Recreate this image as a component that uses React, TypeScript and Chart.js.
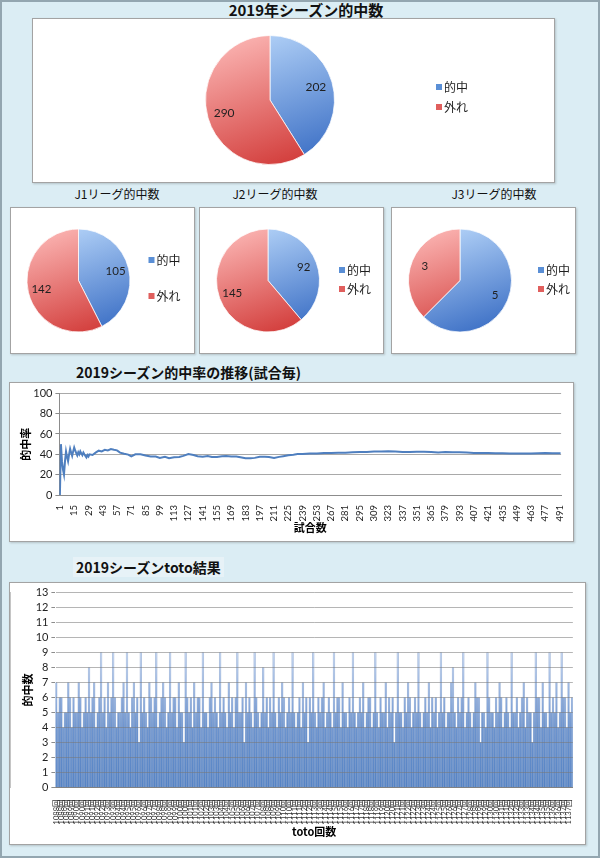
import React, { useEffect, useRef } from 'react';
import { Chart, registerables } from 'chart.js';

Chart.register(...registerables);

// ---------------- data ----------------
const pieLabels = ['的中', '外れ'];
const seasonTotals = [202, 290];
const j1Totals = [105, 142];
const j2Totals = [92, 145];
const j3Totals = [5, 3];

// cumulative hit-rate (%) by match number
const rateMatchNo = [
  1, 2, 3, 4, 5, 6, 7, 8, 9, 10, 11, 12, 13, 14, 15, 16, 17, 18, 19, 20, 21, 22, 23, 24, 25, 26, 27, 28, 29, 30,
  33, 36, 39, 42, 45, 48, 51, 54, 57, 60, 64, 68, 71, 75, 80, 85, 90, 95, 99, 104, 108, 113, 118, 122, 127, 132,
  136, 141, 146, 150, 155, 160, 164, 169, 174, 178, 183, 188, 192, 197, 202, 206, 211, 216, 220, 225, 230, 234,
  239, 246, 253, 260, 267, 274, 281, 288, 295, 302, 309, 316, 323, 330, 337, 344, 351, 358, 365, 372, 379, 386,
  393, 400, 407, 414, 421, 428, 435, 442, 449, 456, 463, 470, 477, 484, 492,
];
const rateValues = [
  0, 50, 33.3, 25, 20, 33.3, 42.9, 37.5, 33.3, 40, 45.5, 41.7, 38.5, 42.9, 46.7, 43.8, 41.2, 38.9, 42.1, 40, 42.9,
  40.9, 39.1, 41.7, 40, 38.5, 37, 39.3, 37.9, 40,
  39.4, 41.7, 43.6, 42.9, 44.4, 43.8, 45.1, 44.4, 43.9, 41.7, 40.6, 39.7, 38.0, 40.0, 40.0, 38.8, 37.8, 37.9, 36.4,
  37.5, 36.1, 37.2, 37.3, 38.5, 40.2, 39.4, 38.2, 37.6, 38.4, 37.3, 37.4, 38.1, 38.4, 37.9, 37.9, 37.1, 36.1, 36.2,
  36.5, 37.6, 37.6, 37.4, 36.5, 37.5, 38.2, 39.1, 39.6, 40.2, 40.2, 40.7, 40.7, 41.2, 41.2, 41.6, 41.6, 42.0, 42.4,
  42.4, 42.7, 42.7, 43.0, 42.7, 42.4, 42.2, 42.5, 42.5, 42.2, 41.9, 42.2, 42.0, 42.0, 41.7, 41.3, 41.3, 41.3, 41.1,
  41.1, 40.8, 40.7, 40.8, 40.8, 41.1, 41.3, 41.1, 41.1,
];
const rateTickNos = [
  1, 15, 29, 43, 57, 71, 85, 99, 113, 127, 141, 155, 169, 183, 197, 211, 225, 239, 253, 267, 281, 295, 309, 323,
  337, 351, 365, 379, 393, 407, 421, 435, 449, 463, 477, 491,
];

// toto results: rounds and hits per ticket (6 tickets per round)
const totoRounds = [
  1088, 1089, 1090, 1091, 1092, 1093, 1094, 1095, 1096, 1097, 1098, 1099, 1100, 1101, 1102, 1103, 1104, 1105, 1106,
  1107, 1108, 1109, 1110, 1111, 1112, 1113, 1114, 1115, 1116, 1117, 1118, 1119, 1120, 1121, 1122, 1123, 1124, 1125,
  1126, 1127, 1128, 1129, 1130, 1131, 1132, 1133, 1134, 1135, 1136, 1137,
];
const ticketsPerRound = 6;
const totoHits = [
  7, 5, 6, 6, 4, 5, 5, 7, 6, 4, 6, 5, 5, 7, 6, 4, 5, 6, 5, 8,
  5, 6, 7, 4, 5, 6, 9, 5, 6, 4, 7, 5, 6, 9, 6, 4, 5, 5, 6, 7,
  5, 9, 5, 4, 6, 7, 5, 6, 3, 9, 5, 6, 5, 4, 7, 6, 5, 6, 9, 4,
  5, 6, 7, 6, 4, 5, 9, 5, 6, 6, 4, 7, 5, 5, 3, 9, 6, 5, 6, 4,
  7, 5, 6, 6, 4, 9, 5, 5, 4, 6, 7, 5, 6, 5, 4, 9, 5, 6, 5, 4,
  7, 5, 6, 4, 6, 9, 5, 5, 6, 3, 7, 5, 6, 5, 4, 9, 6, 5, 4, 5,
  8, 5, 6, 4, 6, 5, 9, 5, 4, 6, 5, 7, 6, 4, 5, 6, 5, 9, 5, 4,
  5, 6, 4, 7, 5, 6, 3, 6, 5, 9, 5, 4, 6, 5, 6, 7, 4, 5, 6, 5,
  4, 9, 5, 6, 6, 4, 7, 5, 5, 4, 6, 5, 9, 5, 4, 5, 6, 5, 7, 4,
  5, 6, 6, 4, 5, 9, 5, 4, 6, 5, 5, 7, 4, 6, 5, 6, 3, 5, 9, 5,
  5, 4, 6, 5, 7, 6, 4, 5, 6, 5, 9, 5, 4, 5, 6, 5, 7, 4, 6, 5,
  6, 4, 5, 9, 5, 6, 4, 5, 5, 7, 8, 5, 4, 6, 5, 6, 9, 4, 5, 6,
  5, 4, 5, 7, 6, 6, 3, 5, 5, 4, 9, 6, 5, 5, 4, 6, 5, 7, 6, 4,
  5, 6, 5, 4, 9, 5, 5, 6, 4, 5, 6, 7, 4, 6, 5, 5, 3, 5, 9, 6,
  6, 4, 7, 5, 5, 4, 9, 5, 6, 5, 7, 4, 5, 9, 6, 6, 4, 7, 5, 6,
];
const totoLabels: string[] = totoRounds.flatMap((r) => Array(ticketsPerRound).fill(`${r}回`));

// ---------------- styling ----------------
const JP = '"Noto Sans CJK JP", "Noto Sans", sans-serif';
const NUM = 'Lato, "Noto Sans CJK JP", sans-serif';
const TEXT = '#1f1f1f';
const GRID = '#a9a9a9';
const AXIS = '#8c8c8c';

Chart.defaults.font.family = NUM;
Chart.defaults.color = TEXT;

const SLICE = [
  { light: '#b4d3f8', dark: '#3e71c6', mark: '#5a8fd6' },
  { light: '#fab2b0', dark: '#d23c3a', mark: '#e05f5d' },
];

function sliceFill(c: any) {
  const chart = c.chart;
  const a = chart.chartArea;
  const s = SLICE[c.dataIndex % 2];
  if (!a) return s.mark;
  const cx = (a.left + a.right) / 2;
  const cy = (a.top + a.bottom) / 2;
  const r = Math.min(a.width, a.height) / 2;
  const g = chart.ctx.createLinearGradient(cx - r * 0.35, cy - r, cx + r * 0.35, cy + r);
  g.addColorStop(0, s.light);
  g.addColorStop(1, s.dark);
  return g;
}

function pieExtras(legendX: number, legendY: number[], labelRadius: number, valueSize: number) {
  return {
    id: 'pieExtras',
    afterDatasetsDraw(chart: any) {
      const ctx = chart.ctx;
      const meta = chart.getDatasetMeta(0);
      const data = chart.data.datasets[0].data;
      ctx.save();
      ctx.font = `${valueSize}px ${NUM}`;
      ctx.fillStyle = TEXT;
      ctx.textAlign = 'center';
      ctx.textBaseline = 'middle';
      meta.data.forEach((arc: any, i: number) => {
        const p = arc.getProps(['x', 'y', 'startAngle', 'endAngle', 'outerRadius'], true);
        const mid = (p.startAngle + p.endAngle) / 2;
        const rr = p.outerRadius * labelRadius;
        ctx.fillText(String(data[i]), p.x + Math.cos(mid) * rr, p.y + Math.sin(mid) * rr);
      });
      ctx.textAlign = 'left';
      ctx.font = `12px ${JP}`;
      (chart.data.labels as string[]).forEach((lab: string, i: number) => {
        const y = legendY[i];
        ctx.fillStyle = SLICE[i].mark;
        ctx.fillRect(legendX, y - 3, 6, 6);
        ctx.fillStyle = TEXT;
        ctx.fillText(lab, legendX + 8, y + 0.5);
      });
      ctx.restore();
    },
  };
}

function pieConfig(
  values: number[],
  pad: { left: number; right: number; top: number; bottom: number },
  legendX: number,
  legendY: number[],
  valueSize: number,
): any {
  return {
    type: 'pie',
    data: {
      labels: pieLabels,
      datasets: [
        {
          data: values,
          backgroundColor: sliceFill,
          borderColor: 'rgba(255,255,255,0.75)',
          borderWidth: 1,
        },
      ],
    },
    options: {
      animation: false,
      responsive: false,
      layout: { padding: pad },
      plugins: { legend: { display: false }, tooltip: { enabled: false } },
    },
    plugins: [pieExtras(legendX, legendY, 0.74, valueSize)],
  };
}

function lineConfig(): any {
  return {
    type: 'line',
    data: {
      datasets: [
        {
          data: rateMatchNo.map((x, i) => ({ x, y: rateValues[i] })),
          borderColor: '#4f7fbf',
          borderWidth: 2,
          pointRadius: 0,
          tension: 0,
          fill: false,
        },
      ],
    },
    options: {
      animation: false,
      responsive: false,
      layout: { padding: { left: 5.4, right: 7, top: 10.3, bottom: 3 } },
      plugins: { legend: { display: false }, tooltip: { enabled: false } },
      scales: {
        x: {
          type: 'linear',
          min: 0.5,
          max: 492.5,
          afterBuildTicks: (axis: any) => {
            axis.ticks = rateTickNos.map((v) => ({ value: v }));
          },
          afterFit: (s: any) => {
            s.height = 43;
          },
          ticks: {
            autoSkip: false,
            minRotation: 90,
            maxRotation: 90,
            padding: 2,
            font: { size: 9.5, family: NUM },
            color: TEXT,
          },
          grid: { display: false },
          border: { display: true, color: AXIS },
          title: {
            display: true,
            text: '試合数',
            color: '#000',
            font: { family: JP, size: 11, weight: 'bold' },
            padding: { top: 2, bottom: 4 },
          },
        },
        y: {
          min: 0,
          max: 100,
          afterFit: (s: any) => {
            s.width = 44;
          },
          ticks: { stepSize: 20, padding: 3, font: { size: 11, family: NUM }, color: TEXT },
          grid: { color: GRID, tickLength: 4, tickColor: AXIS },
          border: { display: true, color: AXIS },
          title: {
            display: true,
            text: '的中率',
            color: '#000',
            font: { family: JP, size: 11, weight: 'bold' },
            padding: { top: 4, bottom: 4 },
          },
        },
      },
    },
  };
}

function barFill(c: any) {
  const chart = c.chart;
  const a = chart.chartArea;
  if (!a) return '#6f98d2';
  const g = chart.ctx.createLinearGradient(0, a.bottom, 0, a.top);
  g.addColorStop(0, '#5583c4');
  g.addColorStop(0.3, '#6b93ce');
  g.addColorStop(0.45, '#8dacdc');
  g.addColorStop(0.7, '#c3d4ee');
  g.addColorStop(1, '#e2eaf6');
  return g;
}

function totoConfig(): any {
  return {
    type: 'bar',
    data: {
      labels: totoLabels,
      datasets: [
        {
          data: totoHits,
          backgroundColor: barFill,
          borderColor: 'rgba(70,110,175,0.45)',
          borderWidth: 0.6,
          inflateAmount: 0.4,
          barPercentage: 1,
          categoryPercentage: 1,
        },
      ],
    },
    options: {
      animation: false,
      responsive: false,
      layout: { padding: { left: 7.4, right: 5.5, top: 9.3, bottom: 2 } },
      plugins: { legend: { display: false }, tooltip: { enabled: false } },
      scales: {
        x: {
          afterFit: (s: any) => {
            s.height = 54.5;
          },
          ticks: {
            autoSkip: false,
            minRotation: 90,
            maxRotation: 90,
            padding: 4,
            font: { size: 7.5, family: NUM },
            color: '#333',
            callback: (_v: any, i: number) => (i % 3 === 0 ? totoLabels[i] : ''),
          },
          grid: { display: false },
          border: { display: true, color: AXIS },
          title: {
            display: true,
            text: 'toto回数',
            color: '#000',
            font: { family: JP, size: 11, weight: 'bold' },
            padding: { top: 2, bottom: 4 },
          },
        },
        y: {
          min: 0,
          max: 13,
          afterFit: (s: any) => {
            s.width = 38;
          },
          ticks: { stepSize: 1, autoSkip: false, padding: 3, font: { size: 11, family: NUM }, color: TEXT },
          grid: { color: 'rgba(120,120,120,0.55)', tickLength: 4, tickColor: AXIS, z: 1 },
          border: { display: true, color: AXIS },
          title: {
            display: true,
            text: '的中数',
            color: '#000',
            font: { family: JP, size: 11, weight: 'bold' },
            padding: { top: 4, bottom: 4 },
          },
        },
      },
    },
  };
}

// ---------------- components ----------------
type BoxProps = { left: number; top: number; width: number; height: number; make: () => any };

function ChartBox({ left, top, width, height, make }: BoxProps) {
  const ref = useRef<HTMLCanvasElement | null>(null);
  useEffect(() => {
    if (!ref.current) return;
    const chart = new Chart(ref.current, make());
    return () => chart.destroy();
  }, []);
  const w = width - 2;
  const h = height - 2;
  return (
    <div
      style={{
        position: 'absolute',
        left,
        top,
        width,
        height,
        boxSizing: 'border-box',
        border: '1px solid #a3a3a3',
        background: '#fff',
        boxShadow: '1px 1px 2px rgba(0,0,0,0.18)',
      }}
    >
      <canvas ref={ref} width={w} height={h} style={{ display: 'block', width: w, height: h }} />
    </div>
  );
}

function Label({ text, x, y, size, bold, center, bg }: any) {
  return (
    <div
      style={{
        position: 'absolute',
        left: center ? x - 150 : x,
        top: y - 10,
        width: center ? 300 : 'auto',
        height: 20,
        lineHeight: '20px',
        textAlign: center ? 'center' : 'left',
        fontFamily: JP,
        fontSize: size,
        fontWeight: bold ? 700 : 400,
        color: '#111',
        whiteSpace: 'nowrap',
        background: bg || 'transparent',
        padding: bg ? '0 3px' : 0,
      }}
    >
      {text}
    </div>
  );
}

export default function App() {
  return (
    <div
      style={{
        position: 'absolute',
        left: 0,
        top: 0,
        width: 600,
        height: 858,
        background: '#dbedf4',
        boxShadow: 'inset 0 0 0 2px #93a6b0',
        overflow: 'hidden',
      }}
    >
      <Label text="2019年シーズン的中数" x={306} y={10} size={15} bold center />
      <ChartBox
        left={32}
        top={18}
        width={523}
        height={165}
        make={() => pieConfig(seasonTotals, { left: 172, right: 219, top: 16, bottom: 17 }, 403, [68, 88], 12)}
      />

      <Label text="J1リーグ的中数" x={117} y={194} size={12} center />
      <Label text="J2リーグ的中数" x={275} y={194} size={12} center />
      <Label text="J3リーグ的中数" x={494} y={194} size={12} center />
      <ChartBox
        left={10}
        top={207}
        width={185}
        height={147}
        make={() => pieConfig(j1Totals, { left: 15.5, right: 63.5, top: 20.5, bottom: 20.5 }, 137.5, [52, 88], 11.5)}
      />
      <ChartBox
        left={199}
        top={207}
        width={185}
        height={147}
        make={() => pieConfig(j2Totals, { left: 16, right: 63, top: 20.5, bottom: 20.5 }, 139, [62, 81], 11.5)}
      />
      <ChartBox
        left={391}
        top={207}
        width={185}
        height={147}
        make={() => pieConfig(j3Totals, { left: 16, right: 63, top: 20.5, bottom: 20.5 }, 146, [62, 81], 11.5)}
      />

      <Label text="2019シーズン的中率の推移(試合毎)" x={76} y={372} size={14} bold />
      <ChartBox left={9} top={382} width={565} height={160} make={lineConfig} />

      <Label text="2019シーズンtoto結果" x={73} y={567} size={14} bold bg="#e7f2f7" />
      <ChartBox left={9} top={582} width={577} height={263} make={totoConfig} />
    </div>
  );
}
